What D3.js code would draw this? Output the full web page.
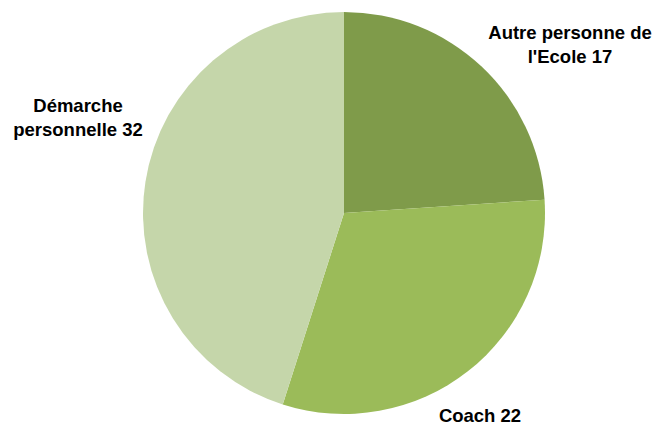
<!DOCTYPE html>
<meta charset="utf-8">
<script src="https://d3js.org/d3.v7.min.js"></script>
<style>
  body { margin: 0; background: #fff; }
</style>
<div id="my_dataviz"></div>
<script>

var categories = ["Autre personne de l'Ecole", "Coach", "Démarche personnelle"];
var values = [17, 22, 32];
var colors = ["#7f9b4a", "#9bbb59", "#c5d6aa"];
// label lines, in the same order
var labelLines = [["Autre personne de", "l'Ecole 17"], ["Coach 22"], ["Démarche", "personnelle 32"]];

var width = 655, height = 427;
var cx = 344, cy = 213, radius = 201;

var svg = d3.select("#my_dataviz")
  .append("svg")
    .attr("width", width)
    .attr("height", height);

var g = svg.append("g")
    .attr("transform", "translate(" + cx + "," + cy + ")");

var pie = d3.pie().sort(null).value(function(d) { return d; });
var arcs = pie(values);
var arc = d3.arc().innerRadius(0).outerRadius(radius);

g.selectAll("path")
  .data(arcs)
  .enter().append("path")
    .attr("d", arc)
    .attr("fill", function(d, i) { return colors[i]; });

// label anchors, relative to the pie centre
var labelPos = [[226, -174], [136, 209], [-266, -101]];

var labels = g.selectAll("text.lbl")
  .data(arcs)
  .enter().append("text")
    .attr("class", "lbl")
    .attr("text-anchor", "middle")
    .attr("font-family", "Liberation Sans, Arial, sans-serif")
    .attr("font-weight", "bold")
    .attr("font-size", "18.5px")
    .attr("fill", "#000")
    .attr("transform", function(d, i) { return "translate(" + labelPos[i][0] + "," + labelPos[i][1] + ")"; });

labels.selectAll("tspan")
  .data(function(d, i) { return labelLines[i]; })
  .enter().append("tspan")
    .attr("x", 0)
    .attr("dy", function(d, j) { return j === 0 ? 0 : 24; })
    .text(function(d) { return d; });

</script>
